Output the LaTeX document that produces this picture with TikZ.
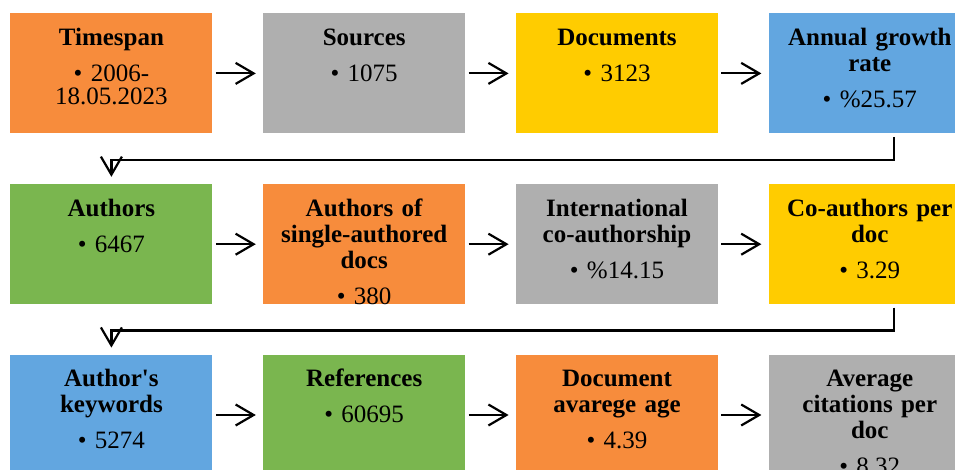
\documentclass[tikz,border=0pt]{standalone}
\usepackage{fontspec}
\setmainfont{Liberation Serif}[Ligatures=TeXOff]
\usetikzlibrary{positioning,arrows.meta}

\definecolor{orangeC}{HTML}{F78C3C}
\definecolor{grayC}{HTML}{AFAFAF}
\definecolor{yellowC}{HTML}{FFCC00}
\definecolor{blueC}{HTML}{62A6E0}
\definecolor{greenC}{HTML}{7AB64F}

\begin{document}
\begin{tikzpicture}[node distance=25pt, b/.style={text width=97pt, inner xsep=2pt, inner ysep=0pt, text height=16pt, text depth=44pt, align=center, font=\fontsize{12.5}{13}\selectfont}, a/.style={-{Straight Barb[length=9pt, width=10.5pt]}, line width=1.1pt, shorten <=1.5pt, shorten >=3.5pt}]
		\useasboundingbox (0,0) rectangle (477.5pt,-235pt);

		\node[b, fill=orangeC, anchor=north west] (A) at (5pt,-6.5pt) {\textbf{Timespan}\\[5pt] • 2006-\\[-1.5pt] 18.05.2023};
		\node[b, fill=grayC, right=of A] (B) {\textbf{Sources}\\[5pt] • 1075};
		\node[b, fill=yellowC, right=of B] (C) {\textbf{Documents}\\[5pt] • 3123};
		\node[b, fill=blueC, right=of C] (D) {\textbf{Annual growth}\\ \textbf{rate}\\[5pt] • \%25.57};

		\node[b, fill=greenC, below=of A] (E) {\textbf{Authors}\\[5pt] • 6467};
		\node[b, fill=orangeC, right=of E] (F) {\textbf{Authors of}\\ \textbf{single-authored}\\ \textbf{docs}\\[5pt] • 380};
		\node[b, fill=grayC, right=of F] (G) {\textbf{International}\\ \textbf{co-authorship}\\[5pt] • \%14.15};
		\node[b, fill=yellowC, right=of G] (H) {\textbf{Co-authors per}\\ \textbf{doc}\\[5pt] • 3.29};

		\node[b, fill=blueC, below=of E] (I) {\textbf{Author's}\\ \textbf{keywords}\\[5pt] • 5274};
		\node[b, fill=greenC, right=of I] (J) {\textbf{References}\\[5pt] • 60695};
		\node[b, fill=orangeC, right=of J] (K) {\textbf{Document}\\ \textbf{avarege age}\\[5pt] • 4.39};
		\node[b, fill=grayC, right=of K] (L) {\textbf{Average}\\ \textbf{citations per}\\ \textbf{doc}\\[5pt] • 8.32};

		\draw[a] (A) -- (B);
		\draw[a] (B) -- (C);
		\draw[a] (C) -- (D);
		\draw[a] ([xshift=12pt]D.south) -- ++(0,-13pt) -| (E.north);
		\draw[a] (E) -- (F);
		\draw[a] (F) -- (G);
		\draw[a] (G) -- (H);
		\draw[a] ([xshift=12pt]H.south) -- ++(0,-13pt) -| (I.north);
		\draw[a] (I) -- (J);
		\draw[a] (J) -- (K);
		\draw[a] (K) -- (L);
	\end{tikzpicture}
\end{document}
